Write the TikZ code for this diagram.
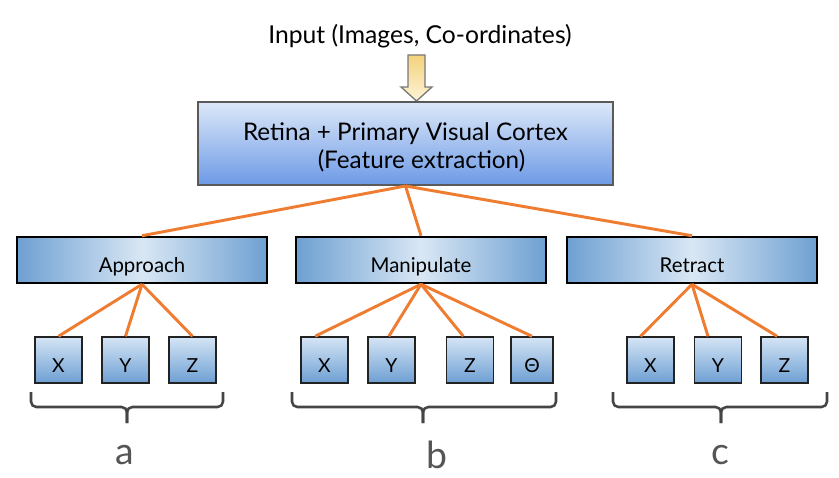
\documentclass[tikz,border=0pt]{standalone}
\usepackage{fontspec}
\setmainfont{Lato}
\usetikzlibrary{positioning}

\definecolor{wire}{RGB}{239,125,49}
\definecolor{brc}{RGB}{69,69,69}
\tikzset{every picture/.style={line width=0.75pt}}
\tikzset{
  cortex/.style={draw={rgb,255:red,90;green,90;blue,90},line width=1.5pt,top color={rgb,255:red,220;green,232;blue,248},bottom color={rgb,255:red,109;green,154;blue,230},minimum width=311.25pt,minimum height=62.25pt,inner sep=0pt,align=center,font=\fontsize{18.2}{21}\selectfont},
  phase/.style={draw=black,line width=1.9pt,left color={rgb,255:red,110;green,160;blue,210},right color={rgb,255:red,110;green,160;blue,210},middle color={rgb,255:red,217;green,231;blue,244},minimum width=187.5pt,minimum height=34.5pt,inner sep=0pt,text height=18.5pt,text depth=0pt,font=\fontsize{15.3}{18}\selectfont},
  axis/.style={draw={rgb,255:red,34;green,34;blue,34},line width=1.1pt,top color={rgb,255:red,213;green,229;blue,245},bottom color={rgb,255:red,109;green,159;blue,211},minimum width=35.25pt,minimum height=34.5pt,inner sep=0pt,text height=18pt,text depth=0pt,font=\fontsize{14.5}{17}\selectfont},
  link/.style={draw=wire,line width=2.2pt},
  brace/.style={draw=brc,line width=1.9pt,rounded corners=4pt},
  group/.style={text={rgb,255:red,85;green,85;blue,85},font=\fontsize{28}{32}\selectfont}
}

\begin{document}
\begin{tikzpicture}[x=0.75pt,y=0.75pt,yscale=-1,xscale=1]
	\useasboundingbox (0,0) rectangle (839,478);

	% Text Node
	\node[font=\fontsize{18.5}{22}\selectfont] (input) at (420,36) {Input (Images, Co-ordinates)};
	%Shape: Down Arrow
	\draw [draw={rgb,255:red,120;green,120;blue,120},line width=1pt,top color={rgb,255:red,244;green,210;blue,125},bottom color={rgb,255:red,253;green,244;blue,214}] (408,55) -- (425,55) -- (425,87) -- (432,87) -- (416.5,101) -- (401,87) -- (408,87) -- cycle ;

	%Shape: Rectangle
	\node[cortex] (cortex) at (405.5,143.5) {\rule{0pt}{19.5pt}Retina + Primary Visual Cortex\\\hspace*{24pt}(Feature extraction)};

	%Shape: Rectangle
	\node[phase] (app) at (142,260) {Approach};
	\node[phase] (man) at (421,260) {Manipulate};
	\node[phase] (ret) at (692,260) {Retract};

	%Shape: Square
	\node[axis] (ax) at (58.5,360) {X};
	\node[axis] (ay) at (125.5,360) {Y};
	\node[axis] (az) at (192.5,360) {Z};
	\node[axis] (mx) at (324.5,360) {X};
	\node[axis] (my) at (391.5,360) {Y};
	\node[axis] (mz) at (470,360) {Z};
	\node[axis,minimum width=31.5pt] (mt) at (532,360) {Θ};
	\node[axis] (rx) at (650.5,360) {X};
	\node[axis] (ry) at (718,360) {Y};
	\node[axis] (rz) at (784.5,360) {Z};

	%Straight Lines
	\draw [link] (cortex.south) -- (app.north) ;
	\draw [link] (cortex.south) -- (man.north) ;
	\draw [link] (cortex.south) -- (ret.north) ;
	\draw [link] (app.south) -- (ax.north) ;
	\draw [link] (app.south) -- (ay.north) ;
	\draw [link] (app.south) -- (az.north) ;
	\draw [link] (man.south) -- ([xshift=-7pt]mx.north) ;
	\draw [link] (man.south) -- ([xshift=-2pt]my.north) ;
	\draw [link] (man.south) -- ([xshift=-5pt]mz.north) ;
	\draw [link] (man.south) -- (mt.north) ;
	\draw [link] (ret.south) -- ([xshift=-7.5pt]rx.north) ;
	\draw [link] (ret.south) -- ([xshift=-7.5pt]ry.north) ;
	\draw [link] (ret.south) -- ([xshift=-5.5pt]rz.north) ;

	%Braces
	\draw [brace] (31,392) |- (127,407) -- (127,423) ;
	\draw [brace] (223,392) |- (127,407) -- (127,423) ;
	\draw [brace] (292,392) |- (423,407) -- (423,423) ;
	\draw [brace] (556,392) |- (423,407) -- (423,423) ;
	\draw [brace] (613,392) |- (721,407) -- (721,423) ;
	\draw [brace] (827,392) |- (721,407) -- (721,423) ;

	% Text Node
	\node[group] (ga) at (125,455) {a};
	\node[group] (gb) at (437,455) {b};
	\node[group] (gc) at (720,455) {c};

\end{tikzpicture}
\end{document}
